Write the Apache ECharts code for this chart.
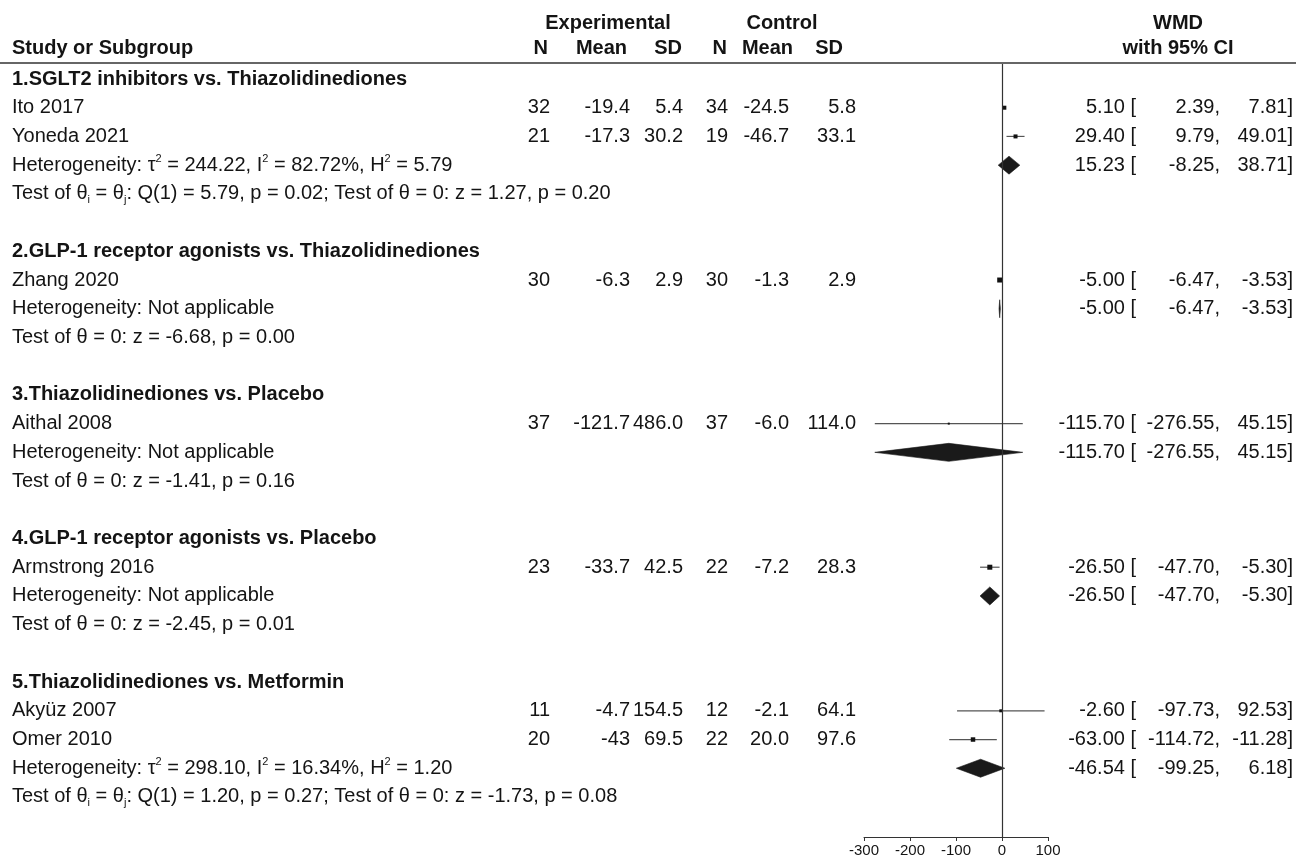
<!DOCTYPE html>
<html>
<head>
<meta charset="utf-8">
<title>WMD forest plot</title>
<script src="https://cdn.jsdelivr.net/npm/echarts@6/dist/echarts.min.js"></script>
<style>
  html, body { margin: 0; padding: 0; background: #fff; }
  #main { width: 1296px; height: 859px; }
</style>
</head>
<body>
<div id="main"></div>
<script>
// ---- Study-level data ----
const studyNames  = ['Ito 2017', 'Yoneda 2021', 'Zhang 2020', 'Aithal 2008', 'Armstrong 2016', 'Akyüz 2007', 'Omer 2010'];
const studyGroup  = [0, 0, 1, 2, 3, 4, 4];
const expN        = ['32', '21', '30', '37', '23', '11', '20'];
const expMean     = ['-19.4', '-17.3', '-6.3', '-121.7', '-33.7', '-4.7', '-43'];
const expSD       = ['5.4', '30.2', '2.9', '486.0', '42.5', '154.5', '69.5'];
const ctlN        = ['34', '19', '30', '37', '22', '12', '22'];
const ctlMean     = ['-24.5', '-46.7', '-1.3', '-6.0', '-7.2', '-2.1', '20.0'];
const ctlSD       = ['5.8', '33.1', '2.9', '114.0', '28.3', '64.1', '97.6'];
const studyWMD    = [5.10, 29.40, -5.00, -115.70, -26.50, -2.60, -63.00];
const studyLow    = [2.39, 9.79, -6.47, -276.55, -47.70, -97.73, -114.72];
const studyHigh   = [7.81, 49.01, -3.53, 45.15, -5.30, 92.53, -11.28];
const studyWeight = [16, 16, 25, 4, 25, 9, 20];

// ---- Subgroup data ----
const groupTitles = [
  '1.SGLT2 inhibitors vs. Thiazolidinediones',
  '2.GLP-1 receptor agonists vs. Thiazolidinediones',
  '3.Thiazolidinediones vs. Placebo',
  '4.GLP-1 receptor agonists vs. Placebo',
  '5.Thiazolidinediones vs. Metformin'
];
const groupWMD  = [15.23, -5.00, -115.70, -26.50, -46.54];
const groupLow  = [-8.25, -6.47, -276.55, -47.70, -99.25];
const groupHigh = [38.71, -3.53, 45.15, -5.30, 6.18];
const groupHet = [
  'Heterogeneity: τ{sup|2} = 244.22, I{sup|2} = 82.72%, H{sup|2} = 5.79',
  'Heterogeneity: Not applicable',
  'Heterogeneity: Not applicable',
  'Heterogeneity: Not applicable',
  'Heterogeneity: τ{sup|2} = 298.10, I{sup|2} = 16.34%, H{sup|2} = 1.20'
];
const groupTest = [
  'Test of θ{sub|i} = θ{sub|j}: Q(1) = 5.79, p = 0.02; Test of θ = 0: z = 1.27, p = 0.20',
  'Test of θ = 0: z = -6.68, p = 0.00',
  'Test of θ = 0: z = -1.41, p = 0.16',
  'Test of θ = 0: z = -2.45, p = 0.01',
  'Test of θ{sub|i} = θ{sub|j}: Q(1) = 1.20, p = 0.27; Test of θ = 0: z = -1.73, p = 0.08'
];

// ---- Axis ----
const xTicks = [-300, -200, -100, 0, 100];

// ---- Build the row table (one row per printed line) ----
const rows = [];
groupTitles.forEach((title, g) => {
  rows.push({ kind: 'title', text: title });
  studyNames.forEach((name, i) => {
    if (studyGroup[i] === g) rows.push({ kind: 'study', idx: i });
  });
  rows.push({ kind: 'pooled', idx: g });
  rows.push({ kind: 'test', idx: g });
  rows.push({ kind: 'blank' });
});
rows.pop();

const FONT = '"Liberation Sans", Arial, Helvetica, sans-serif';
const INK = '#141414';
const FS = 20;
const COL = { study: 12, expN: 550, expMean: 630, expSD: 683, ctlN: 728, ctlMean: 789, ctlSD: 856,
              est: 1136, low: 1220, high: 1293 };
const RICH = {
  sup: { fontSize: 11, fontFamily: FONT, fill: INK, verticalAlign: 'top', lineHeight: 12 },
  sub: { fontSize: 11, fontFamily: FONT, fill: INK, verticalAlign: 'bottom', lineHeight: 10 }
};

function txt(x, y, text, align, bold, rich) {
  const style = {
    x: x, y: y, text: text, fill: INK,
    font: (bold ? 'bold ' : '') + FS + 'px ' + FONT,
    align: align, verticalAlign: 'middle'
  };
  if (rich) { style.rich = RICH; style.lineHeight = 24; }
  return { type: 'text', silent: true, style: style };
}

function ciTexts(y, est, lo, hi) {
  return [
    txt(COL.est, y, est.toFixed(2) + ' [', 'right'),
    txt(COL.low, y, lo.toFixed(2) + ',', 'right'),
    txt(COL.high, y, hi.toFixed(2) + ']', 'right')
  ];
}

// Text columns for each row
function renderText(params, api) {
  const r = rows[params.dataIndex];
  const y = api.coord([0, api.value(1)])[1];
  const kids = [];
  if (r.kind === 'title') {
    kids.push(txt(COL.study, y, r.text, 'left', true));
  } else if (r.kind === 'study') {
    const i = r.idx;
    kids.push(txt(COL.study, y, studyNames[i], 'left'));
    kids.push(txt(COL.expN, y, expN[i], 'right'));
    kids.push(txt(COL.expMean, y, expMean[i], 'right'));
    kids.push(txt(COL.expSD, y, expSD[i], 'right'));
    kids.push(txt(COL.ctlN, y, ctlN[i], 'right'));
    kids.push(txt(COL.ctlMean, y, ctlMean[i], 'right'));
    kids.push(txt(COL.ctlSD, y, ctlSD[i], 'right'));
    kids.push(...ciTexts(y, studyWMD[i], studyLow[i], studyHigh[i]));
  } else if (r.kind === 'pooled') {
    const g = r.idx;
    kids.push(txt(COL.study, y, groupHet[g], 'left', false, true));
    kids.push(...ciTexts(y, groupWMD[g], groupLow[g], groupHigh[g]));
  } else if (r.kind === 'test') {
    kids.push(txt(COL.study, y, groupTest[r.idx], 'left', false, true));
  }
  return { type: 'group', children: kids };
}

// Study boxes with CI whiskers, subgroup diamonds
function renderForest(params, api) {
  const r = rows[params.dataIndex];
  const row = api.value(1);
  if (r.kind === 'study') {
    const i = r.idx;
    const c = api.coord([studyWMD[i], row]);
    const a = api.coord([studyLow[i], row]);
    const b = api.coord([studyHigh[i], row]);
    const s = Math.sqrt(studyWeight[i]);
    return {
      type: 'group',
      children: [
        { type: 'line', shape: { x1: a[0], y1: a[1], x2: b[0], y2: b[1] },
          style: { stroke: '#555', lineWidth: 1.2 } },
        { type: 'rect', shape: { x: c[0] - s / 2, y: c[1] - s / 2, width: s, height: s },
          style: { fill: '#111' } }
      ]
    };
  }
  if (r.kind === 'pooled') {
    const g = r.idx;
    const c = api.coord([groupWMD[g], row]);
    const a = api.coord([groupLow[g], row]);
    const b = api.coord([groupHigh[g], row]);
    const h = 9;
    return {
      type: 'polygon',
      shape: { points: [[a[0], a[1]], [c[0], c[1] - h], [b[0], b[1]], [c[0], c[1] + h]] },
      style: { fill: '#1a1a1a', stroke: '#1a1a1a', lineWidth: 0.6 }
    };
  }
  return null;
}

const rowData = rows.map((r, k) => [0, k]);

const chart = echarts.init(document.getElementById('main'), null, { renderer: 'canvas' });
chart.setOption({
  backgroundColor: '#fff',
  animation: false,
  grid: { left: 864, right: 248, top: 64, bottom: 22, containLabel: false },
  xAxis: {
    type: 'value', min: xTicks[0], max: xTicks[xTicks.length - 1], interval: 100,
    axisLine: { show: true, onZero: false, lineStyle: { color: '#333', width: 1 } },
    axisTick: { show: true, length: 4, lineStyle: { color: '#333' } },
    axisLabel: { fontSize: 15, color: INK, fontFamily: FONT, margin: 6 },
    splitLine: { show: false }
  },
  yAxis: { type: 'value', inverse: true, min: -0.522, max: 26.394, show: false },
  graphic: [
    { type: 'text', left: 12, top: 38, style: { text: 'Study or Subgroup', font: 'bold 20px ' + FONT, fill: INK } },
    { type: 'text', x: 608, y: 23, style: { text: 'Experimental', font: 'bold 20px ' + FONT, fill: INK, align: 'center', verticalAlign: 'middle' } },
    { type: 'text', x: 782, y: 23, style: { text: 'Control', font: 'bold 20px ' + FONT, fill: INK, align: 'center', verticalAlign: 'middle' } },
    { type: 'text', x: 1178, y: 23, style: { text: 'WMD', font: 'bold 20px ' + FONT, fill: INK, align: 'center', verticalAlign: 'middle' } },
    { type: 'text', x: 1178, y: 48, style: { text: 'with 95% CI', font: 'bold 20px ' + FONT, fill: INK, align: 'center', verticalAlign: 'middle' } },
    { type: 'text', x: 548, y: 48, style: { text: 'N', font: 'bold 20px ' + FONT, fill: INK, align: 'right', verticalAlign: 'middle' } },
    { type: 'text', x: 627, y: 48, style: { text: 'Mean', font: 'bold 20px ' + FONT, fill: INK, align: 'right', verticalAlign: 'middle' } },
    { type: 'text', x: 682, y: 48, style: { text: 'SD', font: 'bold 20px ' + FONT, fill: INK, align: 'right', verticalAlign: 'middle' } },
    { type: 'text', x: 727, y: 48, style: { text: 'N', font: 'bold 20px ' + FONT, fill: INK, align: 'right', verticalAlign: 'middle' } },
    { type: 'text', x: 793, y: 48, style: { text: 'Mean', font: 'bold 20px ' + FONT, fill: INK, align: 'right', verticalAlign: 'middle' } },
    { type: 'text', x: 843, y: 48, style: { text: 'SD', font: 'bold 20px ' + FONT, fill: INK, align: 'right', verticalAlign: 'middle' } },
    { type: 'line', shape: { x1: 0, y1: 63, x2: 1296, y2: 63 }, style: { stroke: '#666', lineWidth: 2 } }
  ],
  series: [
    {
      type: 'custom', name: 'text', data: rowData, clip: false,
      encode: { x: 0, y: 1 }, renderItem: renderText, silent: true
    },
    {
      type: 'custom', name: 'forest', data: rowData, clip: false,
      encode: { x: 0, y: 1 }, renderItem: renderForest, silent: true, z: 3,
      markLine: {
        silent: true, symbol: 'none', animation: false,
        label: { show: false },
        lineStyle: { color: '#333', width: 1.2, type: 'solid' },
        data: [{ xAxis: 0 }]
      }
    }
  ]
});
</script>
</body>
</html>
